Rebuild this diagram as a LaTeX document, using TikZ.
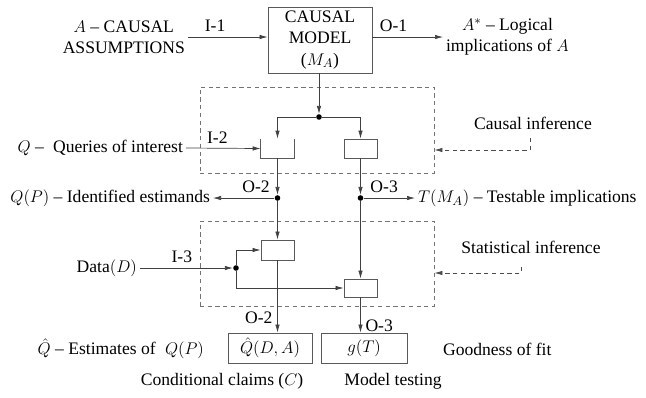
\documentclass[tikz,border=0pt]{standalone}
\usepackage{fontspec}
\setmainfont{Liberation Serif}
\usepackage{tikz}
\usetikzlibrary{arrows.meta}

\begin{document}
\begin{tikzpicture}[x=0.025cm,y=-0.025cm,>={Latex[length=2mm,width=1.1mm]},
  every node/.style={font=\rmfamily\fontsize{12.5}{15}\selectfont},
  line/.style={draw=black!75,line width=0.5pt},
  box/.style={draw=black!65,line width=0.6pt,inner sep=0pt},
  dbox/.style={draw=black!55,line width=0.5pt,dash pattern=on 3pt off 2.5pt,inner sep=0pt},
  darrow/.style={draw=black!70,line width=0.5pt,dash pattern=on 3pt off 2.5pt},
  dot/.style={circle,fill=black,inner sep=0pt,minimum size=0.14cm},
  txt/.style={inner sep=2pt,align=center}]
  \useasboundingbox (0,0) rectangle (646,397);
  \node[box,minimum width=2.6cm,minimum height=1.65cm,align=center] (model) at (320,40) {CAUSAL\\MODEL\\($M_A$)};
  \node[txt,anchor=east] (assume) at (188,37) {$A$ -- CAUSAL\\ASSUMPTIONS};
  \node[txt,anchor=west] (implic) at (443,37) {$A^{*}$ -- Logical\\implications of $A$};
  \draw[line,->] (assume.east) -- (assume.east -| model.west) node[pos=0.34,above] {I-1};
  \draw[line,->] (model.east |- implic.west) -- (implic.west) node[pos=0.3,above] {O-1};
  \node[dbox,minimum width=5.85cm,minimum height=2.15cm] (cibox) at (317,130) {};
  \node[dbox,minimum width=5.85cm,minimum height=2.125cm] (sibox) at (317,263.5) {};
  \node[dot] (split) at (319,117) {};
  \node[minimum width=0.825cm,minimum height=0.475cm,inner sep=0pt] (ident) at (277.5,148.5) {};
  \draw[box] (ident.north west) -- (ident.south west) -- (ident.south east) -- (ident.north east);
  \node[box,minimum width=0.825cm,minimum height=0.475cm] (test) at (360.5,148.5) {};
  \draw[line,->] (model.south -| split) -- (split);
  \draw[line,->] (split) -| (ident);
  \draw[line,->] (split) -| (test);
  \node[txt,anchor=east] (queries) at (186,148) {$Q$ -- \;Queries of interest};
  \draw[line,->] (queries.east) -- (ident.west) node[pos=0.42,above] {I-2};
  \node[txt,anchor=center] (citext) at (533,123) {Causal inference};
  \coordinate (cistart) at (530,138);
  \draw[darrow,->] (cistart) -- ++(0,12) coordinate (cicorner) -- (cicorner -| cibox.east);
  \node[dot] (dot2) at (277.5,198) {};
  \node[dot] (dot3) at (360.5,198) {};
  \draw[line,->] (ident) -- (dot2);
  \draw[line,->] (test) -- (dot3);
  \node[txt,anchor=east] (estim) at (213,198) {$Q(P)$ -- Identified estimands};
  \node[txt,anchor=west] (testable) at (415,198) {$T(M_A)$ -- Testable implications};
  \draw[line,->] (dot2) -- (estim.east) node[pos=0.3,above] {O-2};
  \draw[line,->] (dot3) -- (testable.west) node[pos=0.4,above] {O-3};
  \node[box,minimum width=0.825cm,minimum height=0.5cm] (estbox) at (277.5,250) {};
  \node[box,minimum width=0.825cm,minimum height=0.45cm] (fitbox) at (360.5,288) {};
  \draw[line,->] (dot2) -- (estbox);
  \draw[line,->] (dot3) -- (fitbox);
  \node[txt,anchor=east] (data) at (140,268) {Data$(D)$};
  \node[dot] (datadot) at (236,268) {};
  \draw[line,->] (data.east) -- (datadot) node[pos=0.45,above] {I-3};
  \draw[line,->] (datadot) |- (estbox);
  \draw[line,->] (datadot) |- (fitbox);
  \node[txt,anchor=center] (sitext) at (531,247) {Statistical inference};
  \coordinate (sistart) at (521,267);
  \draw[darrow,->] (sistart) -- ++(0,6) coordinate (sicorner) -- (sicorner -| sibox.east);
  \node[box,minimum width=2.1cm,minimum height=0.75cm] (qhat) at (270,348) {$\hat{Q}(D,A)$};
  \node[box,minimum width=2.15cm,minimum height=0.75cm] (gfit) at (364,348) {$g(T)$};
  \draw[line,->] (estbox) -- (estbox |- qhat.north) node[pos=0.8,left] {O-2};
  \draw[line,->] (fitbox) -- (fitbox |- gfit.north) node[pos=0.8,right] {O-3};
  \node[txt,anchor=east] (estimates) at (207,349) {$\hat{Q}$ -- Estimates of \;$Q(P)$};
  \node[txt,anchor=west] (goodness) at (440,349) {Goodness of fit};
  \node[txt] (claims) at (222,381) {Conditional claims ($C$)};
  \node[txt] (testing) at (393,381) {Model testing};
\end{tikzpicture}
\end{document}
